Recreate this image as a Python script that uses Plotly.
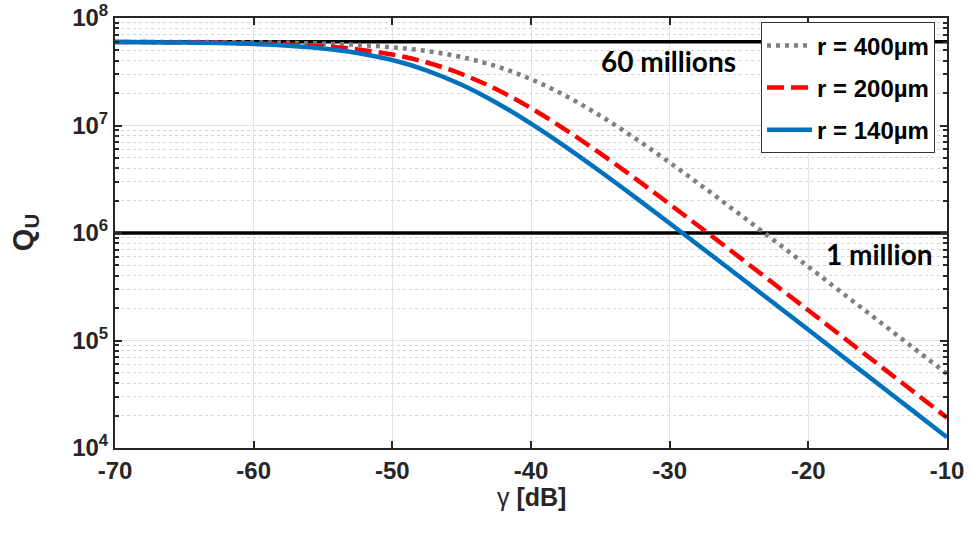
import plotly.graph_objects as go

gamma_db = [-70, -67.5, -65, -62.5, -60, -57.5, -55, -52.5, -50, -47.5, -45, -42.5, -40,
            -37.5, -35, -32.5, -30, -27.5, -25, -22.5, -20, -17.5, -15, -12.5, -10]

q_r400 = [5.993e7, 5.987e7, 5.977e7, 5.959e7, 5.927e7, 5.872e7, 5.776e7, 5.613e7, 5.345e7,
          4.927e7, 4.325e7, 3.553e7, 2.697e7, 1.888e7, 1.231e7, 7.606e6, 4.528e6, 2.633e6,
          1.510e6, 8.585e5, 4.858e5, 2.741e5, 1.545e5, 8.70e4, 4.898e4]

q_r200 = [5.981e7, 5.967e7, 5.941e7, 5.896e7, 5.818e7, 5.683e7, 5.459e7, 5.101e7, 4.568e7,
          3.852e7, 3.013e7, 2.172e7, 1.451e7, 9.124e6, 5.498e6, 3.221e6, 1.855e6, 1.057e6,
          5.993e5, 3.385e5, 1.908e5, 1.074e5, 6.047e4, 3.402e4, 1.914e4]

q_r140 = [5.972e7, 5.950e7, 5.911e7, 5.843e7, 5.727e7, 5.531e7, 5.214e7, 4.732e7, 4.063e7,
          3.247e7, 2.393e7, 1.630e7, 1.041e7, 6.332e6, 3.734e6, 2.158e6, 1.233e6, 6.996e5,
          3.955e5, 2.231e5, 1.257e5, 7.071e4, 3.978e4, 2.238e4, 1.259e4]

ref_levels = [6e7, 1e6]
ref_log_levels = [7.778, 6.0]
ref_labels = ["60 millions", "1 million"]
ref_label_x = [-25.07, -10.87]

x_ticks = [-70, -60, -50, -40, -30, -20, -10]
y_ticks = [1e4, 1e5, 1e6, 1e7, 1e8]
y_ticktext = ["10<sup>4</sup>", "10<sup>5</sup>", "10<sup>6</sup>", "10<sup>7</sup>", "10<sup>8</sup>"]

fig = go.Figure()

# reference horizontal lines
for lvl in ref_levels:
    fig.add_trace(go.Scatter(x=[x_ticks[0], x_ticks[-1]], y=[lvl, lvl], mode="lines",
                             line=dict(color="black", width=3.5), showlegend=False,
                             hoverinfo="skip"))

fig.add_trace(go.Scatter(x=gamma_db, y=q_r400, mode="lines", name="r = 400µm", legendgroup="a",
                         line=dict(color="#808080", width=4.5, dash="4px,5px", shape="spline")))
fig.add_trace(go.Scatter(x=gamma_db, y=q_r200, mode="lines", name="r = 200µm", legendgroup="b",
                         line=dict(color="#FF0000", width=4.5, dash="17px,7px", shape="spline")))
fig.add_trace(go.Scatter(x=gamma_db, y=q_r140, mode="lines", name="r = 140µm", legendgroup="c",
                         line=dict(color="#0072BD", width=4.5, shape="spline")))

for lvl, txt, xl, ys, fs in zip(ref_log_levels, ref_labels, ref_label_x, [0, -2], [28, 28]):
    fig.add_annotation(x=xl, y=lvl, xref="x", yref="y", yshift=ys, text="<b>" + txt + "</b>",
                       showarrow=False, yanchor="top", xanchor="right",
                       font=dict(family="Lato", size=fs, color="black"))

# axis titles
fig.add_annotation(x=-0.108, y=0.5, xref="paper", yref="paper", textangle=-90,
                   text="<b>Q<sub>U</sub></b>", showarrow=False, xanchor="center", yanchor="middle",
                   font=dict(family="Liberation Sans", size=29, color="#262626"))
fig.add_annotation(x=0.5, y=-0.114, xref="paper", yref="paper",
                   text="γ <b>[dB]</b>", showarrow=False, xanchor="center", yanchor="middle",
                   font=dict(family="Liberation Sans", size=25, color="#262626"))

fig.update_xaxes(range=[-70, -10], tickvals=x_ticks, ticktext=[str(v) for v in x_ticks],
                 ticks="inside", ticklen=7, tickwidth=1.5, tickcolor="#262626",
                 showline=True, linecolor="#262626", linewidth=2, mirror="ticks",
                 showgrid=True, gridcolor="#E3E3E3", gridwidth=1, zeroline=False,
                 ticklabeloverflow="allow", automargin=False,
                 tickfont=dict(family="Liberation Sans Narrow, Liberation Sans", size=24,
                               color="#262626", weight="bold"))

fig.update_yaxes(type="log", range=[4, 8], tickvals=y_ticks, ticktext=y_ticktext,
                 ticks="inside", ticklen=7, tickwidth=1.5, tickcolor="#262626",
                 showline=True, linecolor="#262626", linewidth=2, mirror="ticks",
                 showgrid=True, gridcolor="#E3E3E3", gridwidth=1, zeroline=False,
                 ticklabeloverflow="allow", automargin=False,
                 tickfont=dict(family="Liberation Sans", size=24, color="#262626", weight="bold"),
                 minor=dict(dtick="D1", ticks="inside", ticklen=4, tickcolor="#262626",
                            showgrid=True, gridcolor="#D4D4D4", griddash="dot", gridwidth=1))

fig.update_layout(
    width=970, height=543,
    margin=dict(l=115, r=23, t=18, b=95, autoexpand=False),
    plot_bgcolor="white", paper_bgcolor="white",
    legend=dict(x=0.9856, y=0.99, xanchor="right", yanchor="top",
                bgcolor="white", bordercolor="#333333", borderwidth=1,
                font=dict(family="Liberation Sans", size=24, color="black", weight="bold"),
                itemwidth=45, tracegroupgap=8, traceorder="grouped"),
)

fig.write_html("out.html")
